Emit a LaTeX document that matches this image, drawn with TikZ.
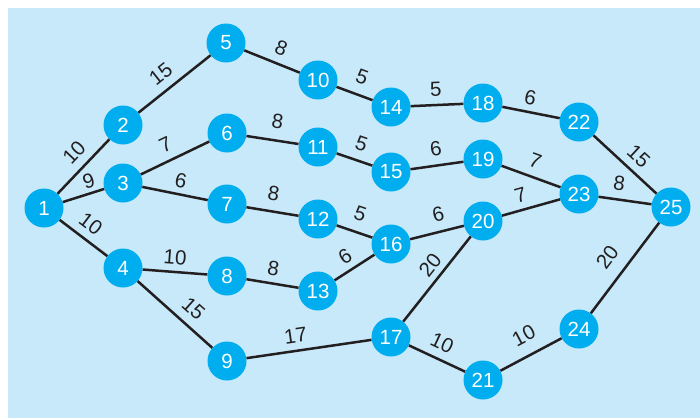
\documentclass[tikz,border=0pt]{standalone}
\usepackage{fontspec}
\setmainfont{Liberation Sans}
\definecolor{bg}{RGB}{199,233,249}
\definecolor{nd}{RGB}{0,174,239}
\definecolor{ln}{RGB}{35,31,32}
\begin{document}
\begin{tikzpicture}[x=1pt,y=-1pt,
 vtx/.style={circle,fill=nd,minimum size=39pt,inner sep=0pt,text=white,font=\fontsize{20.5}{20.5}\selectfont},
 conn/.style={draw=ln,line width=2.5pt},
 wt/.style={sloped,above=#1,font=\fontsize{20.5}{20.5}\selectfont,text=ln,inner sep=0pt}]
\useasboundingbox (0,0) rectangle (700,418);
\fill[bg] (8,8) rectangle (700,418);
\node[vtx] (n1) at (44,208) {1};
\node[vtx] (n2) at (123,125) {2};
\node[vtx] (n3) at (123,183) {3};
\node[vtx] (n4) at (123,268) {4};
\node[vtx] (n5) at (226,43) {5};
\node[vtx] (n6) at (227,133) {6};
\node[vtx] (n7) at (227,204) {7};
\node[vtx] (n8) at (227,276) {8};
\node[vtx] (n9) at (227,361) {9};
\node[vtx] (n10) at (318,80) {10};
\node[vtx] (n11) at (318,147) {11};
\node[vtx] (n12) at (318,219) {12};
\node[vtx] (n13) at (318,291) {13};
\node[vtx] (n14) at (391,107) {14};
\node[vtx] (n15) at (391,172) {15};
\node[vtx] (n16) at (391,244) {16};
\node[vtx] (n17) at (391,337) {17};
\node[vtx] (n18) at (483,103) {18};
\node[vtx] (n19) at (483,159) {19};
\node[vtx] (n20) at (483,221) {20};
\node[vtx] (n21) at (483,380) {21};
\node[vtx] (n22) at (579,122) {22};
\node[vtx] (n23) at (579,194) {23};
\node[vtx] (n24) at (579,329) {24};
\node[vtx] (n25) at (671,207) {25};
\draw[conn] (n1) -- node[wt=8.1pt,pos=0.55]{10} (n2);
\draw[conn] (n1) -- node[wt=3.3pt,pos=0.71]{9} (n3);
\draw[conn] (n1) -- node[wt=7.1pt,pos=0.455]{10} (n4);
\draw[conn] (n2) -- node[wt=7.8pt,pos=0.45]{15} (n5);
\draw[conn] (n3) -- node[wt=7.5pt,pos=0.46]{7} (n6);
\draw[conn] (n3) -- node[wt=4.8pt,pos=0.55]{6} (n7);
\draw[conn] (n4) -- node[wt=5.8pt,pos=0.485]{10} (n8);
\draw[conn] (n4) -- node[wt=8.2pt,pos=0.6]{15} (n9);
\draw[conn] (n5) -- node[wt=7.4pt,pos=0.56]{8} (n10);
\draw[conn] (n6) -- node[wt=10.7pt,pos=0.54]{8} (n11);
\draw[conn] (n7) -- node[wt=9.7pt,pos=0.465]{8} (n12);
\draw[conn] (n8) -- node[wt=6.2pt,pos=0.47]{8} (n13);
\draw[conn] (n9) -- node[wt=6.9pt,pos=0.41]{17} (n17);
\draw[conn] (n10) -- node[wt=10.2pt,pos=0.53]{5} (n14);
\draw[conn] (n11) -- node[wt=8.6pt,pos=0.54]{5} (n15);
\draw[conn] (n12) -- node[wt=10.2pt,pos=0.49]{5} (n16);
\draw[conn] (n13) -- node[wt=6pt,pos=0.46]{6} (n16);
\draw[conn] (n14) -- node[wt=7.8pt,pos=0.49]{5} (n18);
\draw[conn] (n15) -- node[wt=8.3pt,pos=0.52]{6} (n19);
\draw[conn] (n16) -- node[wt=8.8pt,pos=0.6]{6} (n20);
\draw[conn] (n17) -- node[wt=5.5pt,pos=0.56]{20} (n20);
\draw[conn] (n17) -- node[wt=7.6pt,pos=0.47]{10} (n21);
\draw[conn] (n18) -- node[wt=5.5pt,pos=0.44]{6} (n22);
\draw[conn] (n19) -- node[wt=8.1pt,pos=0.48]{7} (n23);
\draw[conn] (n20) -- node[wt=6pt,pos=0.385]{7} (n23);
\draw[conn] (n21) -- node[wt=11.6pt,pos=0.535]{10} (n24);
\draw[conn] (n22) -- node[wt=7.1pt,pos=0.55]{15} (n25);
\draw[conn] (n23) -- node[wt=7.3pt,pos=0.35]{8} (n25);
\draw[conn] (n24) -- node[wt=12pt,pos=0.48]{20} (n25);
\end{tikzpicture}
\end{document}
